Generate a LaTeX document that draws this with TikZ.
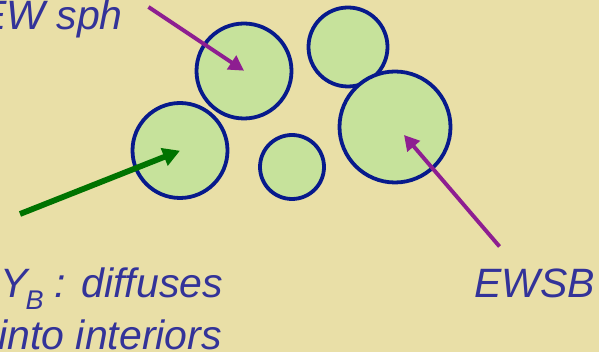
\documentclass[tikz,border=0pt]{standalone}
\usepackage{fontspec}
\setmainfont{Liberation Sans}
\usetikzlibrary{arrows.meta}
\definecolor{bg}{HTML}{E9DFA7}
\definecolor{ballfill}{HTML}{C6E29B}
\definecolor{ballline}{HTML}{071A8C}
\definecolor{arrpurple}{HTML}{8E1E91}
\definecolor{arrgreen}{HTML}{007300}
\definecolor{txt}{HTML}{333399}
\tikzset{
  ball/.style={circle, draw=ballline, fill=ballfill, line width=3.8pt, inner sep=0pt},
  lbl/.style={inner sep=0pt, text=txt, font=\fontsize{41}{51}\selectfont\itshape},
  parrow/.style={draw=arrpurple, line width=3.9pt, -{Triangle[length=15pt,width=16pt]}},
  garrow/.style={draw=arrgreen, line width=5.8pt, -{Triangle[length=17pt,width=18pt]}}
}
\begin{document}
\begin{tikzpicture}[x=1pt,y=-1pt]
\fill[bg] (0,0) rectangle (599,352);
\useasboundingbox (0,0) rectangle (599,352);
\node[ball, minimum size=95pt] (c1) at (244,71) {};
\node[ball, minimum size=79pt] (c2) at (348,47) {};
\node[ball, minimum size=111pt] (c3) at (395,127) {};
\node[ball, minimum size=95pt] (c4) at (180,150.5) {};
\node[ball, minimum size=64pt] (c5) at (292,167) {};
\node[lbl, anchor=base east] (t1) at (123,30) {EW sph};
\node[lbl, anchor=base west] (t2) at (0,298) {Y\kern-2pt\raisebox{-12pt}{\fontsize{27}{27}\selectfont\itshape B} : diffuses};
\node[lbl, anchor=base east] (t3) at (222,349) {into interiors};
\node[lbl, anchor=base east] (t4) at (595,298) {EWSB};
\coordinate (a1) at (148.5,7);
\coordinate (a2) at (20,214);
\coordinate (a3) at (499.5,246.5);
\coordinate (h1) at (244,70.7);
\coordinate (h2) at (180,150.7);
\coordinate (h3) at (404,135);
\draw[parrow] (a1) -- (h1);
\draw[garrow] (a2) -- (h2);
\draw[parrow] (a3) -- (h3);
\end{tikzpicture}
\end{document}
